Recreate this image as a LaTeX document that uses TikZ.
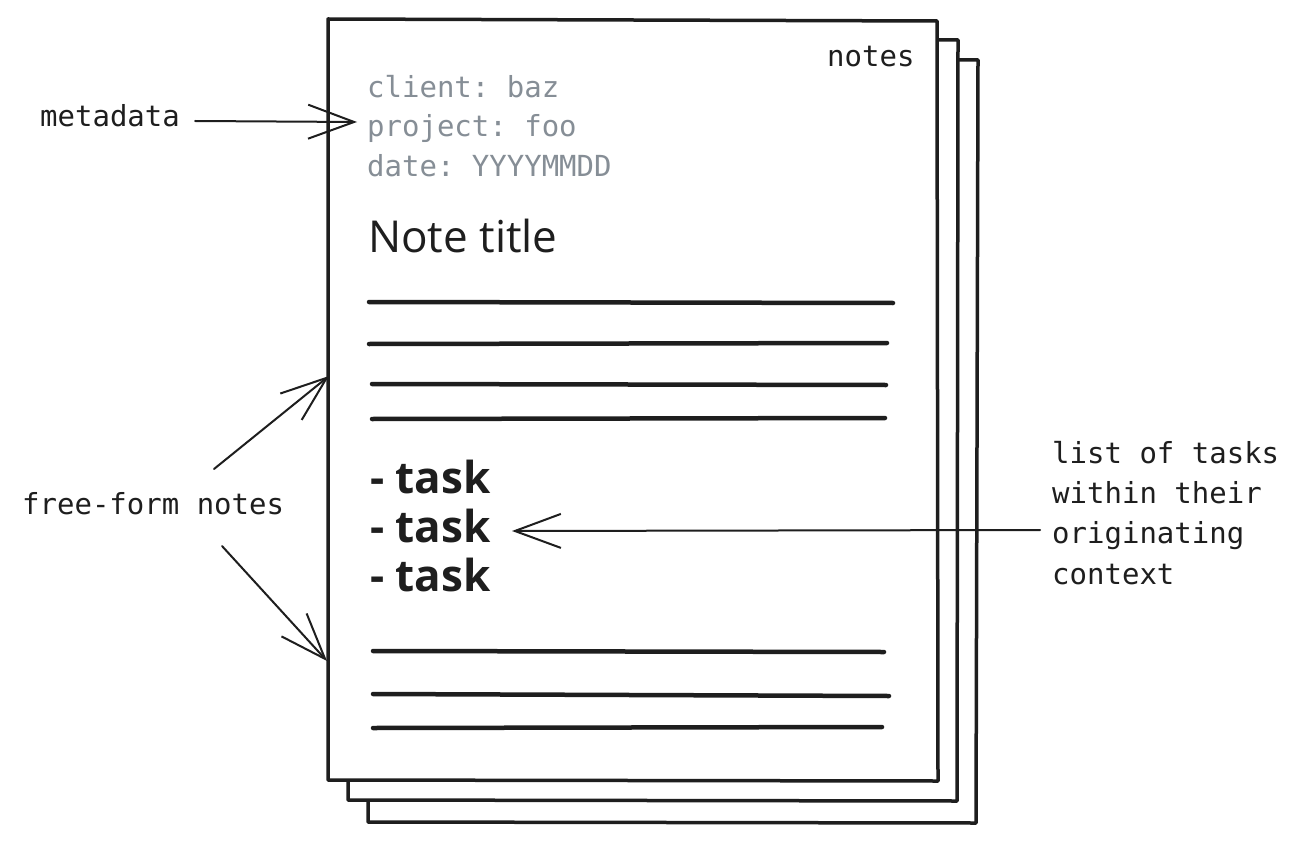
\documentclass[tikz,border=0pt]{standalone}
\usepackage{fontspec}
\setmainfont{Open Sans}
\setmonofont{DejaVu Sans Mono}
\usetikzlibrary{arrows.meta}
\definecolor{ink}{HTML}{1E1E1E}
\definecolor{meta}{HTML}{868E96}
\begin{document}
\begin{tikzpicture}[x=1pt,y=-1pt,
 page/.style={draw=ink, line width=3.5pt, fill=white, line join=round},
 rule/.style={draw=ink, line width=4.5pt, line cap=round},
 mono/.style={font=\ttfamily\fontsize{29}{29}\selectfont, text=ink, inner sep=0pt, anchor=base west},
 metatext/.style={mono, text=meta},
 hand/.style={font=\fontsize{44}{44}\selectfont, text=ink, inner sep=0pt, anchor=base west},
 taskstyle/.style={hand, font=\bfseries\fontsize{44}{44}\selectfont},
 conn/.style={draw=ink, line width=2pt, line cap=round, -{Straight Barb[length=46pt,width=34pt]}}
]
\useasboundingbox (0,0) rectangle (1297,842);
% stacked pages
\path[page] (368,60) -- (978,60) -- (976,823) -- (368,822) -- cycle;
\path[page] (348,40) -- (958,40) -- (957,801) -- (348,800) -- cycle;
\path[page] (328,19) -- (937,21) -- (938,781) -- (328,780) -- cycle;
% texts on page
\node[mono] (notes) at (827,67) {notes};
\node[metatext] (client) at (367,98) {client: baz};
\node[metatext] (project) at (367,137) {project: foo};
\node[metatext] (date) at (367,177) {date: YYYYMMDD};
\node[hand] (title) at (368,252) {Note title};
\node[taskstyle] (task1) at (370,493) {- task};
\node[taskstyle] (task2) at (370,542) {- task};
\node[taskstyle] (task3) at (370,591) {- task};
% rules
\draw[rule] (369,302) -- (893,303);
\draw[rule] (369,344) -- (887,343);
\draw[rule] (372,384) -- (886,385);
\draw[rule] (372,419) -- (885,418);
\draw[rule] (373,651) -- (884,652);
\draw[rule] (373,694) -- (889,696);
\draw[rule] (373,728) -- (882,727);
% labels
\node[mono] (metadata) at (40,127) {metadata};
\node[mono] (free) at (22,514) {free-form notes};
\node[mono, anchor=north west, align=left, font=\ttfamily\fontsize{29}{40.3}\selectfont] (list) at (1052,441)
 {list of tasks\\within their\\originating\\context};
% connectors
\coordinate (mtip) at (357,122);
\coordinate (fupstart) at (214,469);
\coordinate (fuptip) at (329,376);
\coordinate (fdnstart) at (222,546);
\coordinate (fdntip) at (327,661);
\coordinate (tstart) at (1040,530);
\coordinate (ttip) at (512,531);
\draw[conn] (metadata.east |- 0,121) ++(15,0) coordinate (mstart) -- (mtip);
\draw[conn] (fupstart) -- (fuptip);
\draw[conn] (fdnstart) -- (fdntip);
\draw[conn] (tstart) -- (ttip);
\end{tikzpicture}
\end{document}
